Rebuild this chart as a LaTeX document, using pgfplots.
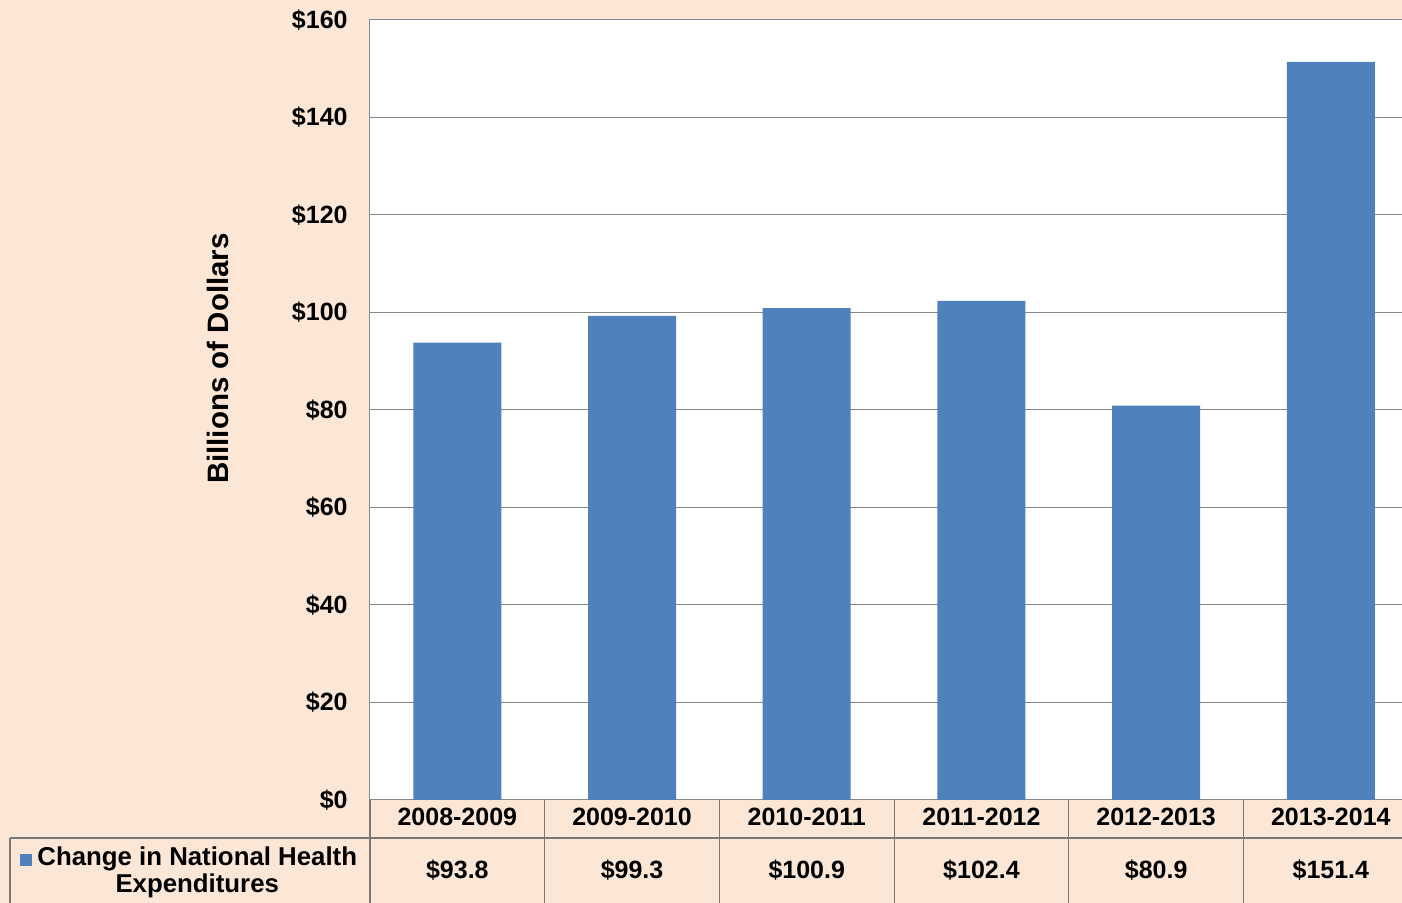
\documentclass[border=0pt]{standalone}
\usepackage{pgfplots}
\pgfplotsset{compat=1.18}
\usepackage{fontspec}
\setmainfont{Liberation Sans}
\definecolor{peach}{RGB}{252,230,214}
\definecolor{barblue}{RGB}{79,129,189}
\definecolor{gridgray}{RGB}{134,134,134}
\definecolor{tablegray}{RGB}{120,120,120}
\begin{document}
\begin{tikzpicture}
\clip (-185pt,-51.5pt) rectangle (516pt,400pt);
\fill[peach] (-185pt,-51.5pt) rectangle (516pt,400pt);
\begin{axis}[
  at={(0pt,0pt)}, anchor=south west,
  scale only axis, width=524.1pt, height=390pt,
  xmin=-0.5, xmax=5.5, ymin=0, ymax=160,
  axis background/.style={fill=white},
  ybar, bar width=44pt,
  ytick={0,20,...,160},
  yticklabels={\$0,\$20,\$40,\$60,\$80,\$100,\$120,\$140,\$160},
  xtick={0,...,5},
  xticklabels={{2008-2009\\[11.5pt]\$93.8},{2009-2010\\[11.5pt]\$99.3},{2010-2011\\[11.5pt]\$100.9},{2011-2012\\[11.5pt]\$102.4},{2012-2013\\[11.5pt]\$80.9},{2013-2014\\[11.5pt]\$151.4}},
  major tick length=0pt,
  ymajorgrids, grid style={gridgray, line width=0.5pt},
  axis line style={gridgray, line width=0.5pt},
  tick label style={font=\fontsize{12.5}{15}\selectfont\bfseries},
  yticklabel style={anchor=east, inner sep=0pt, xshift=-11pt},
  xticklabel style={anchor=north, align=center, inner sep=0pt, yshift=-4pt},
  ylabel={Billions of Dollars},
  ylabel style={at={(rel axis cs:-0.145,0.566)}, anchor=center, font=\fontsize{14.75}{17}\selectfont\bfseries},
  legend style={at={(rel axis cs:0,0)}, anchor=west, xshift=-175pt, yshift=-35.5pt, draw=none, fill=none, inner sep=0pt, font=\fontsize{12.9}{13.5}\selectfont\bfseries, nodes={inner sep=0pt}, cells={align=center}},
]
\addplot[fill=barblue, draw=none, legend image code/.code={\fill[barblue] (0pt,2.5pt) rectangle (6pt,8.5pt); \path (8.5pt,2.5pt);}] coordinates {(0,93.8) (1,99.3) (2,100.9) (3,102.4) (4,80.9) (5,151.4)};
\addlegendentry{Change in National Health\\Expenditures}
\end{axis}
\draw[tablegray, line width=0.6pt] (-180pt,-19pt) -- (530pt,-19pt);
\draw[tablegray, line width=0.6pt] (-180pt,-19pt) -- (-180pt,-60pt);
\foreach \k in {0,...,6} {\draw[tablegray, line width=0.6pt] (\k*87.35pt,0pt) -- (\k*87.35pt,-60pt);}
\end{tikzpicture}
\end{document}
